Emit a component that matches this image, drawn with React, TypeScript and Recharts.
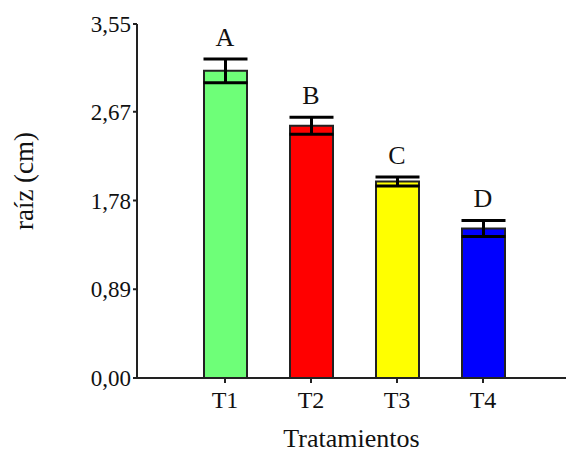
import { Bar, Cell, ErrorBar, LabelList, Line, XAxis, YAxis, ComposedChart } from 'recharts';

const categories = ['T1', 'T2', 'T3', 'T4'];
const means = [3.08, 2.53, 1.97, 1.5];
const errors = [0.12, 0.085, 0.045, 0.08];
const letters = ['A', 'B', 'C', 'D'];
const yTicks = [0, 0.89, 1.78, 2.67, 3.55];

const fills = ['#6EFF78', '#FF0000', '#FFFF00', '#0000FF'];
const font = '"Liberation Serif", "Times New Roman", serif';

const data = categories.map((name, i) => ({
  name,
  value: means[i],
  err: errors[i],
  top: means[i] + errors[i],
  letter: letters[i],
}));

function YTitle() {
  return (
    <text
      x={24}
      y={181}
      transform="rotate(-90 24 181)"
      textAnchor="middle"
      dominantBaseline="central"
      fontFamily={font}
      fontSize={27}
      fill="#111"
    >
      raíz (cm)
    </text>
  );
}

export default function App() {
  return (
    <div style={{ position: 'absolute', left: 0, top: 0, background: '#fff' }}>
      <ComposedChart
        width={566}
        height={453}
        data={data}
        margin={{ top: 24, right: 0, bottom: 0, left: 0 }}
        barSize={43}
      >
        <XAxis
          dataKey="name"
          padding={{ left: 45, right: 40 }}
          height={75}
          tickSize={5}
          tickMargin={8}
          stroke="#222"
          strokeWidth={2}
          tick={{ fill: '#111', fontFamily: font, fontSize: 24 }}
          label={{
            value: 'Tratamientos',
            position: 'insideBottom',
            offset: 6,
            fill: '#111',
            fontFamily: font,
            fontSize: 26,
          }}
        />
        <YAxis
          domain={[0, 3.55]}
          ticks={yTicks}
          width={137}
          tickSize={4}
          tickMargin={2}
          stroke="#222"
          strokeWidth={2}
          tickFormatter={(v: number) => v.toFixed(2).replace('.', ',')}
          tick={{ fill: '#111', fontFamily: font, fontSize: 23 }}
          label={{ content: () => <YTitle /> }}
        />
        <Bar dataKey="value" stroke="#222" strokeWidth={2} isAnimationActive={false}>
          {data.map((d, i) => (
            <Cell key={d.name} fill={fills[i]} />
          ))}
          <ErrorBar dataKey="err" width={22} strokeWidth={3} stroke="#000" />
        </Bar>
        <Line
          dataKey="top"
          stroke="none"
          dot={false}
          activeDot={false}
          isAnimationActive={false}
        >
          <LabelList
            dataKey="letter"
            position="top"
            offset={13}
            fill="#111"
            fontFamily={font}
            fontSize={26}
          />
        </Line>
      </ComposedChart>
    </div>
  );
}
